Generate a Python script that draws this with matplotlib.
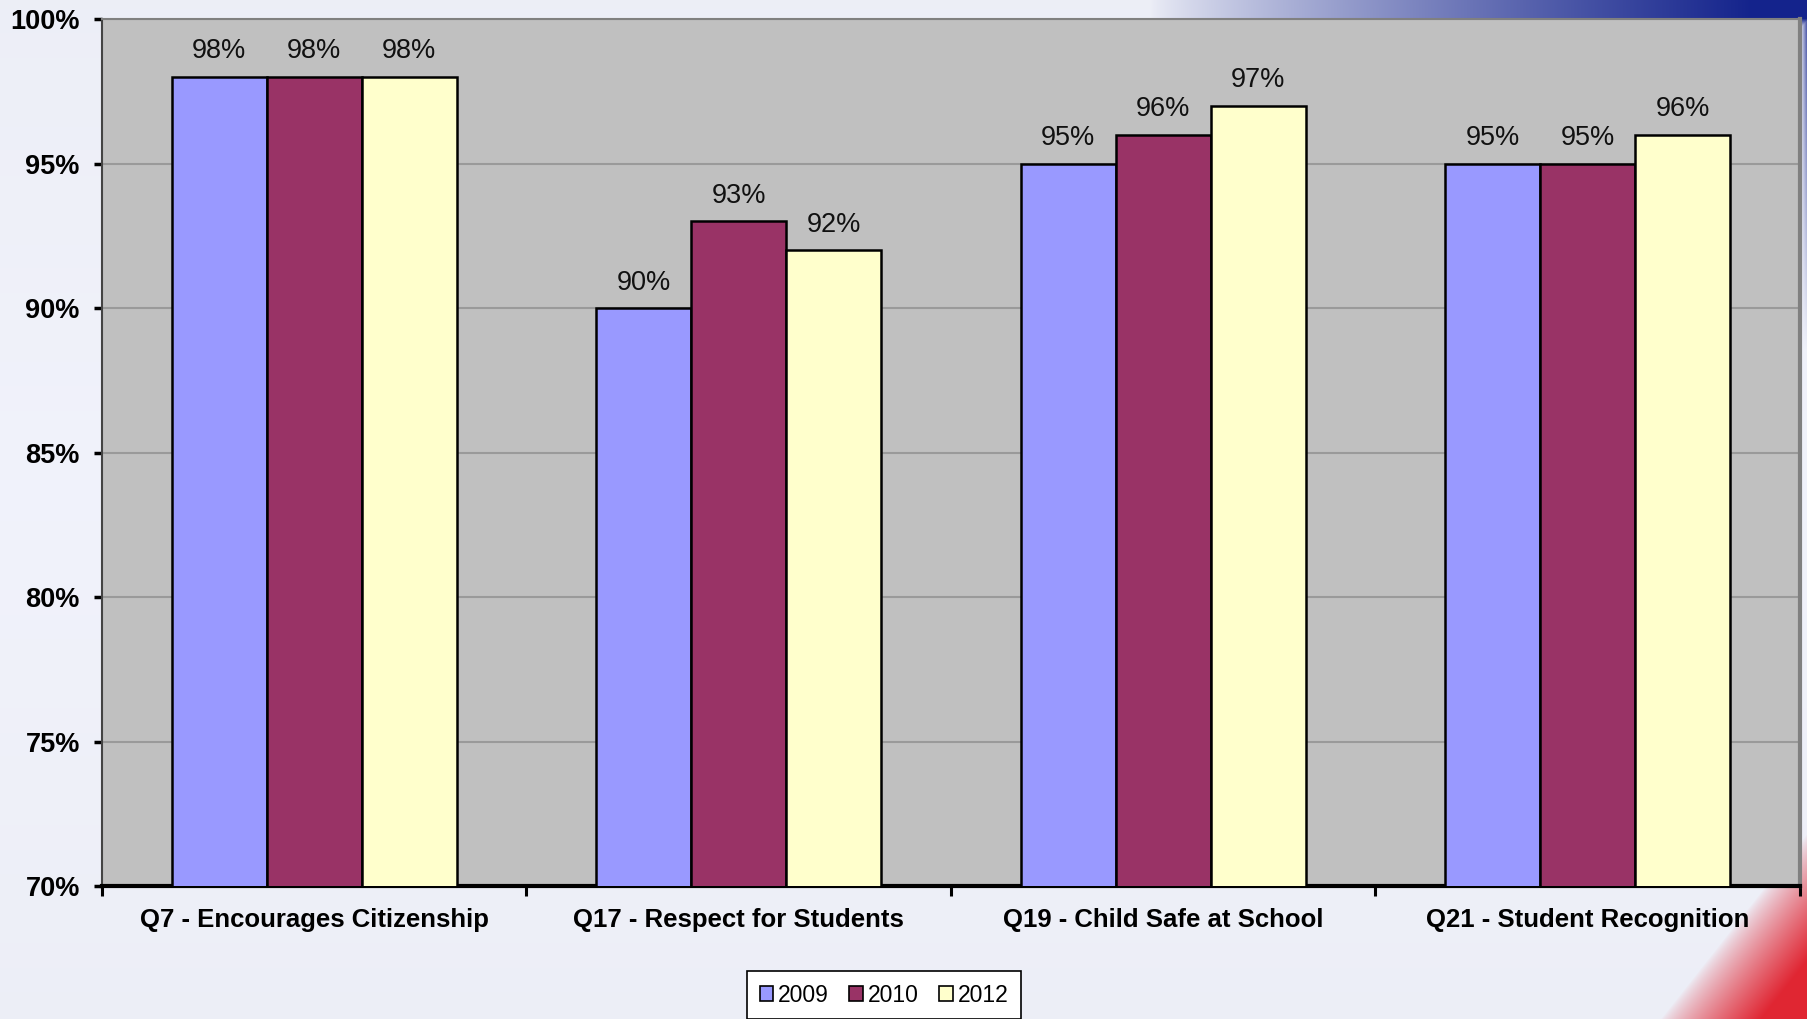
import numpy as np
import matplotlib
matplotlib.use("Agg")
import matplotlib.pyplot as plt
from matplotlib.ticker import FixedLocator, FuncFormatter

categories = ["Q7 - Encourages Citizenship", "Q17 - Respect for Students",
              "Q19 - Child Safe at School", "Q21 - Student Recognition"]
years = ["2009", "2010", "2012"]
values_2009 = [98, 90, 95, 95]
values_2010 = [98, 93, 96, 95]
values_2012 = [98, 92, 97, 96]
series = [values_2009, values_2010, values_2012]
colors = ["#9999FF", "#993366", "#FFFFCC"]
yticks = [70, 75, 80, 85, 90, 95, 100]

plt.rcParams['font.family'] = ['Liberation Sans', 'DejaVu Sans']

W, H = 1808, 1019
fig = plt.figure(figsize=(W / 100, H / 100), dpi=100)

# background gradient (decoration)
yy, xx = np.mgrid[0:H, 0:W].astype(float)
base = np.array([0.915, 0.922, 0.955])
bg = np.ones((H, W, 3)) * base
lighten = np.clip(1 - np.abs(yy - 500) / 900, 0, 1)[..., None] * 0.03
bg = np.clip(bg + lighten, 0, 1)
blue = np.array([0.08, 0.14, 0.55])
a_b = np.clip((xx - 1150) / 600, 0, 1) ** 0.8 * np.clip(1 - (yy - 18) / 10, 0, 1)
a_b = np.maximum(a_b, np.clip((xx - 1800) / 8, 0, 1) * np.clip(1 - yy / 350, 0, 1))
bg = bg * (1 - a_b[..., None]) + blue * a_b[..., None]
red = np.array([0.88, 0.15, 0.20])
s = xx + 0.79 * yy
a_r = np.clip((s - 2465) / 100, 0, 1) ** 0.8
bg = bg * (1 - a_r[..., None]) + red * a_r[..., None]
bgax = fig.add_axes([0, 0, 1, 1], zorder=-10)
bgax.imshow(bg, aspect='auto', extent=[0, 1, 0, 1])
bgax.axis('off')

ax = fig.add_axes([102 / W, 1 - 886 / H, (1800 - 102) / W, (886 - 19) / H])
ax.set_facecolor("#C0C0C0")

x = np.arange(len(categories))
bw = 0.224
for i, (vals, col, yr) in enumerate(zip(series, colors, years)):
    pos = x + (i - 1) * bw
    bars = ax.bar(pos, vals, width=bw, color=col, edgecolor="black",
                  linewidth=1.8, label=yr, zorder=3)
    for b, v in zip(bars, vals):
        ax.annotate(f"{v}%", (b.get_x() + b.get_width() / 2, v),
                    xytext=(0, 9), textcoords="offset points",
                    ha="center", va="bottom", fontsize=19.5, color="#111111")

ax.set_ylim(70, 100)
ax.set_xlim(-0.5, len(categories) - 0.5)
ax.yaxis.set_major_locator(FixedLocator(yticks))
ax.yaxis.set_major_formatter(FuncFormatter(lambda v, p: f"{int(v)}%"))
ax.grid(axis='y', color="#9a9a9a", linewidth=1.5, zorder=1)
ax.set_axisbelow(True)

ax.xaxis.set_major_locator(FixedLocator(np.arange(-0.5, len(categories), 1.0)))
ax.xaxis.set_major_formatter(FuncFormatter(lambda v, p: ""))
ax.xaxis.set_minor_locator(FixedLocator(x))
ax.set_xticks(x, categories, minor=True)
ax.tick_params(axis='x', which='minor', length=0, pad=16, labelsize=18.5)
ax.tick_params(axis='x', which='major', length=7, width=2.2, direction='out', color='black')
ax.tick_params(axis='y', length=6, width=2.5, direction='out', color='black', pad=10, labelsize=19.5)
for lab in ax.get_xticklabels(minor=True) + ax.get_yticklabels():
    lab.set_fontweight('bold')

ax.spines['bottom'].set_color('black')
ax.spines['bottom'].set_linewidth(3)
ax.spines['left'].set_color('#444444')
ax.spines['left'].set_linewidth(1.5)
ax.spines['top'].set_color('#808080')
ax.spines['top'].set_linewidth(1.5)
ax.spines['right'].set_color('#808080')
ax.spines['right'].set_linewidth(3)

leg = fig.legend(loc='upper center', bbox_to_anchor=(884 / W, 1 - 972 / H + 0.001),
                 ncol=3, fontsize=16.5, frameon=True, fancybox=False,
                 edgecolor='black', facecolor='white', framealpha=1,
                 handlelength=0.6, handleheight=0.6, handletextpad=0.2,
                 columnspacing=0.9, borderpad=0.55, borderaxespad=0)
leg.get_frame().set_linewidth(1.2)
for p in leg.get_patches():
    p.set_linewidth(1.2)

fig.savefig("out.png", dpi=100)
